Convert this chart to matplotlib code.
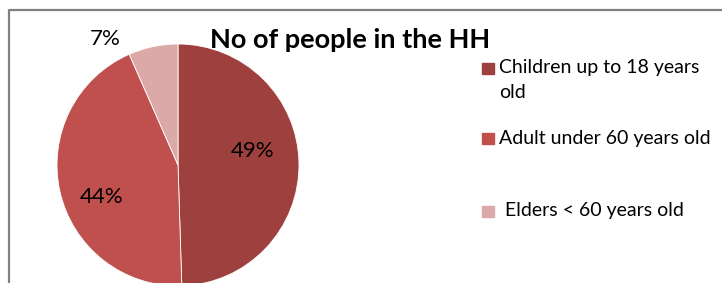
import matplotlib.pyplot as plt
from matplotlib.patches import Rectangle

plt.rcParams['font.family'] = ['Lato', 'DejaVu Sans']

categories = ['Children up to 18 years\nold', 'Adult under 60 years old', 'Elders < 60 years old']
shares = [49.5, 43.9, 6.6]
pct_labels = ['49%', '44%', '7%']
colors = ['#9E413E', '#C0504D', '#DBA9A8']

W, H = 722, 283
fig = plt.figure(figsize=(W / 100, H / 100), dpi=100)

# pie: center (178,165) px, radius 121 px
cx, cy, r = 178, 165, 121
ax = fig.add_axes([(cx - r) / W, (H - cy - r) / H, 2 * r / W, 2 * r / H])
ax.pie(shares, colors=colors, startangle=90, counterclock=False,
       radius=1, wedgeprops=dict(edgecolor='white', linewidth=0.6))
ax.set_xlim(-1, 1)
ax.set_ylim(-1, 1)
ax.set_aspect('auto')

# overlay axes in pixel coords (y down) for frame, title, labels, legend
frame = fig.add_axes([0, 0, 1, 1])
frame.set_zorder(5)
frame.set_xlim(0, W)
frame.set_ylim(H, 0)
frame.axis('off')
frame.plot([9, 9, W + 5], [H + 5, 10, 10], color='#808080', lw=1.6, clip_on=False)

# percent labels (x centre, baseline) in px
pct_pos = [(253, 157), (102, 203), (105, 45)]
for (x, y), t in zip(pct_pos, pct_labels):
    frame.text(x, y, t, ha='center', va='baseline', fontsize=16, color='black')

frame.text(350, 48, 'No of people in the HH', ha='center', va='baseline',
           fontsize=19.5, fontweight='bold')

# legend
sq_y = [63, 133, 206]
txt_x = [499, 499, 505]
txt_y = [73, 144, 216]
for sy, tx, ty, c, lab in zip(sq_y, txt_x, txt_y, colors, categories):
    frame.add_patch(Rectangle((482, sy), 12, 11, color=c))
    lines = lab.split('\n')
    for i, line in enumerate(lines):
        frame.text(tx, ty + 25 * i, line, ha='left', va='baseline', fontsize=14)

fig.savefig('out.png', dpi=100)
